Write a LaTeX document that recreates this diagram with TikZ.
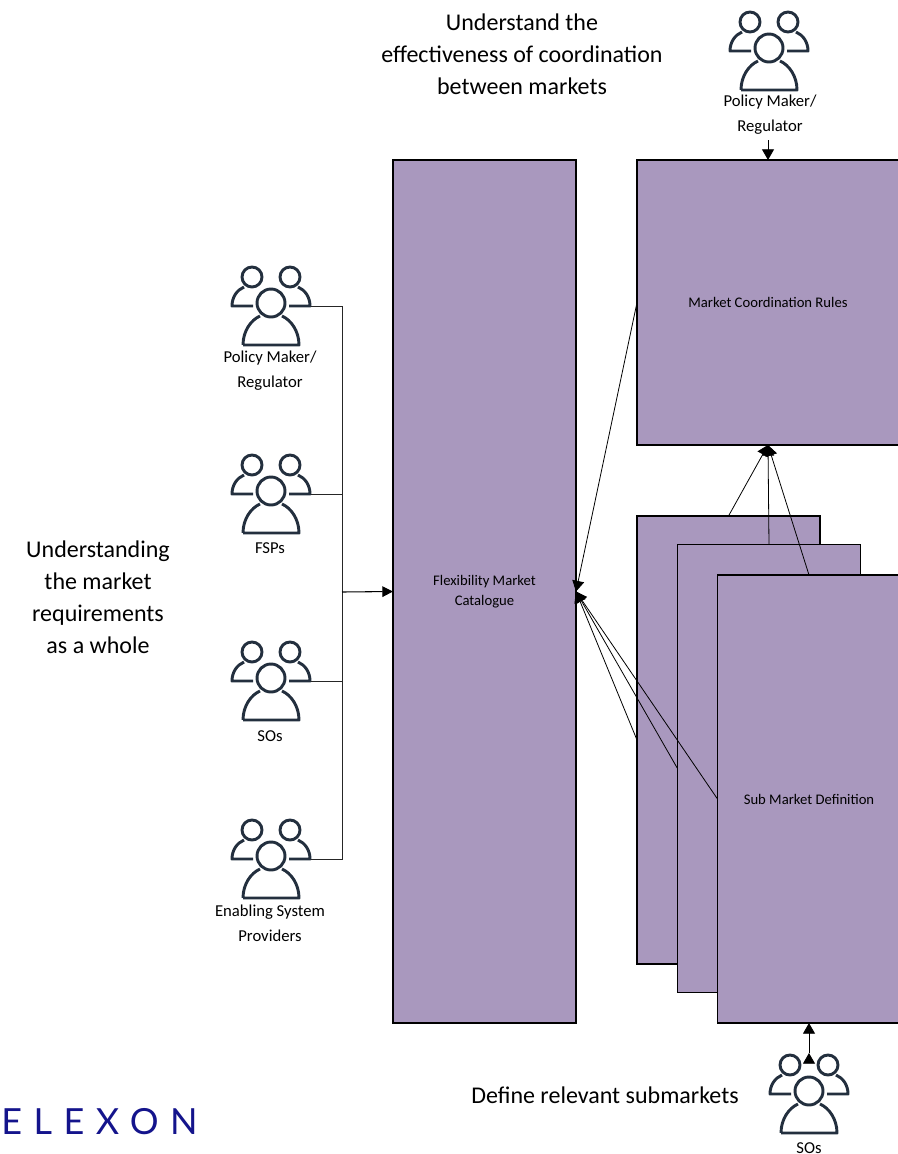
\documentclass[tikz,border=0pt]{standalone}
\usepackage{fontspec}
\setmainfont{Carlito}
\newfontfamily\logofont[LetterSpace=32]{Lato}
\usetikzlibrary{arrows.meta}
\definecolor{boxpurple}{HTML}{A998BE}
\definecolor{iconblue}{HTML}{232F3E}
\definecolor{logoblue}{HTML}{14148C}
\begin{document}
\begin{tikzpicture}[x=0.75pt,y=-0.75pt,
                    main node/.style={rectangle,draw=black,fill=boxpurple,line width=1pt,inner sep=0pt,outer sep=0pt,align=center,font=\fontsize{11}{15}\selectfont},
                    who/.style={align=center,font=\fontsize{12.5}{18.5}\selectfont},
                    say/.style={align=center,font=\fontsize{18}{24}\selectfont},
                    link/.style={line width=0.6pt,black!85},
                    feed/.style={line width=0.6pt,-{Triangle[length=8pt,width=9pt]}},
                    people/.pic={
                      \draw[iconblue,line width=2.2pt,line join=round]
                        (0,0) circle (14)
                        (-19,-26) circle (10)
                        (19,-26) circle (10)
                        (-28,42) -- (28,42) .. controls (28,28) and (20,17) .. (11,13)
                        (-28,42) .. controls (-28,28) and (-20,17) .. (-11,13)
                        (-18,3) -- (-39,3) .. controls (-39,-6) and (-34,-13) .. (-27,-16)
                        (18,3) -- (39,3) .. controls (39,-6) and (34,-13) .. (27,-16);
                      \coordinate (-out) at (40,3);
                    }]
  \useasboundingbox (0,0) rectangle (897,1154);
  % boxes
  \node[main node,minimum width=137.25pt,minimum height=647.25pt] (cat) at (484.5,591.5) {Flexibility Market\\Catalogue};
  \node[main node,minimum width=196.5pt,minimum height=213.75pt] (rules) at (768,302.5) {Market Coordination Rules};
  \node[main node,minimum width=137.25pt,minimum height=336pt] (sub1) at (728.5,740) {};
  \node[main node,minimum width=137.25pt,minimum height=336pt] (sub2) at (769,768.5) {};
  \node[main node,minimum width=137.25pt,minimum height=336pt] (sub3) at (809,799) {Sub Market Definition};
  % people on the left
  \pic (p1) at (271,303) {people};
  \pic (p2) at (271,491) {people};
  \pic (p3) at (271,678) {people};
  \pic (p4) at (271,856) {people};
  \node[who] (L1) at (270,370.5) {Policy Maker/\\Regulator};
  \node[who] (L2) at (270,548) {FSPs};
  \node[who] (L3) at (270,736) {SOs};
  \node[who] (L4) at (270,923.5) {Enabling System\\Providers};
  % people at top and bottom
  \pic (p5) at (769,48) {people};
  \pic (p6) at (809,1091) {people};
  \node[who] (L5) at (770,114.5) {Policy Maker/\\Regulator};
  \node[who] (L6) at (809,1148) {SOs};
  % large texts
  \node[say] (T1) at (522,54.5) {Understand the\\effectiveness of coordination\\between markets};
  \node[say] (T2) at (98,597) {Understanding\\the market\\requirements\\as a whole};
  \node[say] (T3) at (605,1095) {Define relevant submarkets};
  \node[text=logoblue,font=\logofont\fontsize{27}{27}\selectfont,anchor=west,inner sep=0pt] (logo) at (1,1122) {ELEXON};
  % connectors
  \coordinate (hub) at (342,592);
  \coordinate (top) at (768,140);
  \coordinate (bottom) at (809,1053);
  \draw[link] (p1-out) -| (hub);
  \draw[link] (p2-out) -| (hub);
  \draw[link] (p3-out) -| (hub);
  \draw[link] (p4-out) -| (hub);
  \draw[line width=0.8pt,-{Triangle[length=8pt,width=8pt]}] (hub) -- (cat.west);
  \path[draw,feed]
    (rules.west) edge (cat.east)
    (sub1.west) edge (cat.east)
    (sub2.west) edge (cat.east)
    (sub3.west) edge (cat.east)
    (sub1.north) edge (rules.south)
    (sub2.north) edge (rules.south)
    (sub3.north) edge (rules.south)
    (top) edge (rules.north)
    (bottom) edge (sub3.south);
\end{tikzpicture}
\end{document}
